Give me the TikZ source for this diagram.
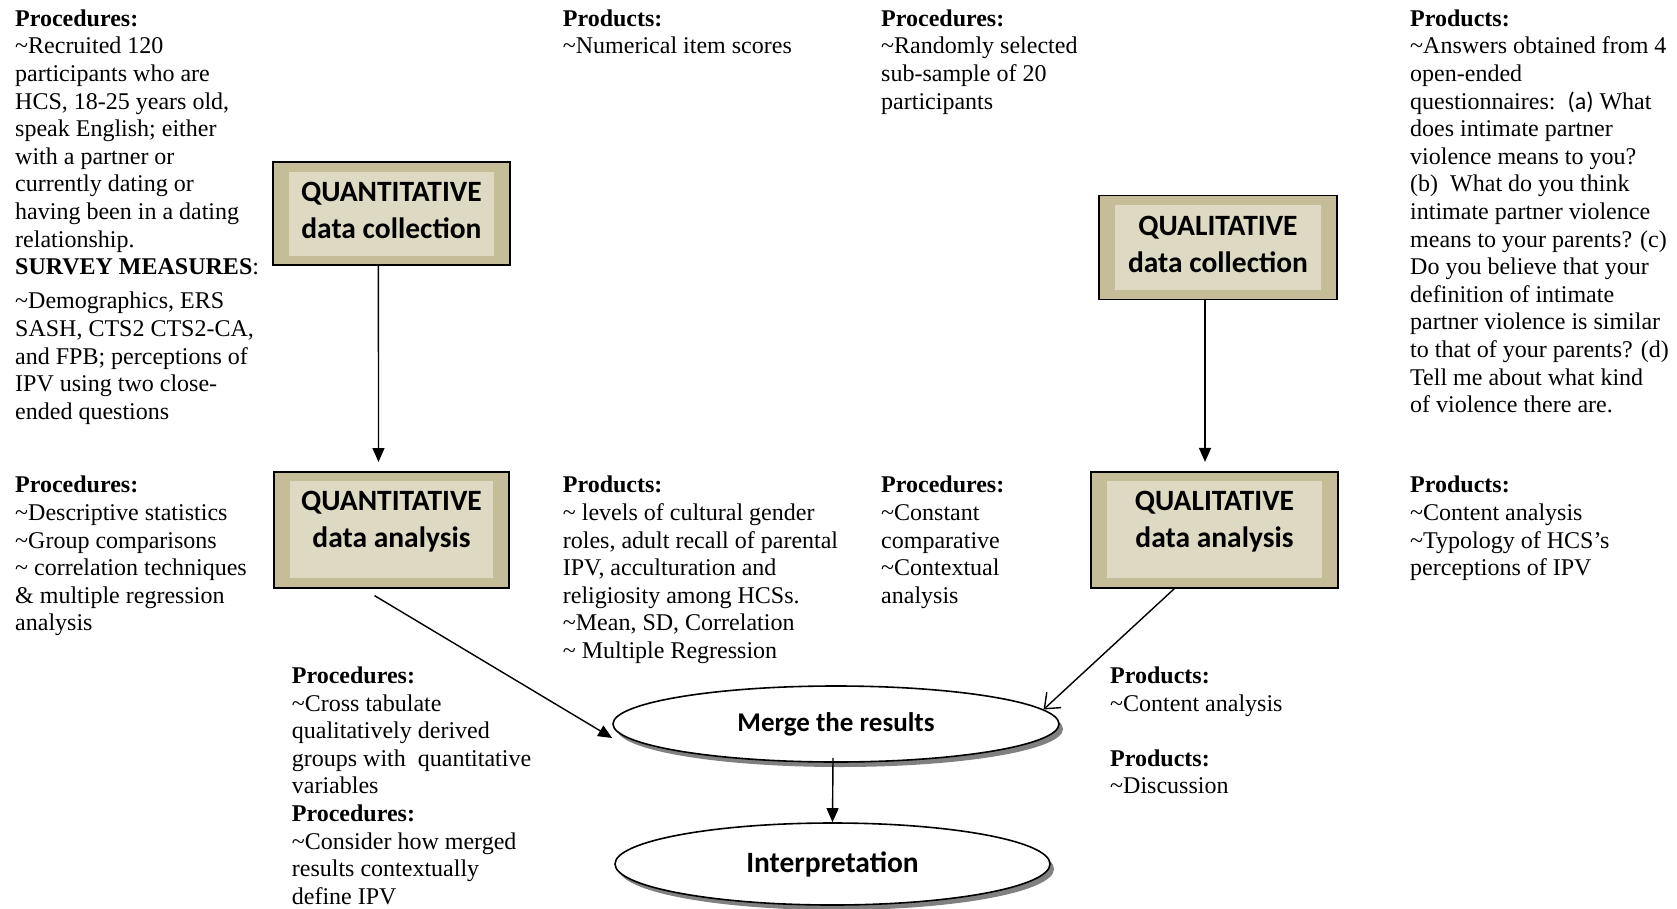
\documentclass[tikz,border=0pt]{standalone}
\usepackage{fontspec}
\setmainfont{Liberation Serif}
\newfontfamily\calfont{Carlito}
\usetikzlibrary{arrows.meta,shapes.geometric,shadows,calc}
\definecolor{tanout}{HTML}{C4BD97}
\definecolor{tanin}{HTML}{DDD9C3}
\begin{document}
\begin{tikzpicture}[x=1pt,y=-1pt,
  txt/.style={anchor=north west, align=left, inner sep=0pt, font=\fontsize{24}{27.6}\selectfont},
  qbox/.style={draw=black, line width=1.6pt, fill=tanout, inner sep=0pt,
    path picture={\fill[tanin] ($(path picture bounding box.south west)+(16pt,9.5pt)$) rectangle ($(path picture bounding box.north east)+(-16pt,-9.5pt)$);}},
  boxtxt/.style={inner sep=0pt, align=center, font=\calfont\bfseries\fontsize{29.5}{37}\selectfont},
  ell/.style={ellipse, draw=black, line width=1.6pt, fill=white, inner sep=0pt,
    font=\calfont\bfseries\fontsize{27}{33}\selectfont,
    drop shadow={shadow xshift=4pt, shadow yshift=-5pt, fill=black!50, opacity=1}},
  arr/.style={line width=1.4pt, -{Triangle[length=14pt,width=12pt]}},
  oarr/.style={line width=1.4pt, -{Straight Barb[length=13pt,width=21pt,line width=1.4pt]}}
]
\useasboundingbox (0,0) rectangle (1677,909);

% boxes
\node[qbox, minimum width=237pt, minimum height=103pt] (qcol) at (391.4,213.7) {};
\node[boxtxt] (qcolt) at ($(qcol)+(0,-3)$) {QUANTITATIVE\\data collection};
\node[qbox, minimum width=235pt, minimum height=116pt] (qana) at (391.5,529.8) {};
\node[boxtxt] (qanat) at ($(qana)+(0,-8.5)$) {QUANTITATIVE\\data analysis};
\node[qbox, minimum width=238pt, minimum height=104pt] (lcol) at (1218,247.6) {};
\node[boxtxt] (lcolt) at ($(lcol)+(0,-3)$) {QUALITATIVE\\data collection};
\node[qbox, minimum width=247pt, minimum height=116pt] (lana) at (1214.5,529.7) {};
\node[boxtxt] (lanat) at ($(lana)+(0,-8.5)$) {QUALITATIVE\\data analysis};

% ellipses
\node[ell, minimum width=446pt, minimum height=76pt] (merge) at (836,724) {Merge the results};
\node[ell, minimum width=435pt, minimum height=82pt, font=\calfont\bfseries\fontsize{29.5}{35}\selectfont] (interp) at (832.5,864) {Interpretation};

% texts, top row
\node[txt] (t1) at (15,6.7) {\strut\textbf{Procedures:}\\\textasciitilde Recruited 120\\participants who are\\HCS, 18-25 years old,\\speak English; either\\with a partner or\\currently dating or\\having been in a dating\\relationship.\\\textbf{SURVEY MEASURES}:\\[6.6pt]\textasciitilde Demographics, ERS\\SASH, CTS2 CTS2-CA,\\and FPB; perceptions of\\IPV using two close-\\ended questions};
\node[txt] (t2) at (562.7,6.7) {\strut\textbf{Products:}\\\textasciitilde Numerical item scores};
\node[txt] (t3) at (881,6.7) {\strut\textbf{Procedures:}\\\textasciitilde Randomly selected\\sub-sample of 20\\participants};
\node[txt] (t4) at (1410,6.7) {\strut\textbf{Products:}\\\textasciitilde Answers obtained from 4\\open-ended\\questionnaires:\ \ {\calfont (a)} What\\does intimate partner\\violence means to you?\\(b)\ \ What do you think\\intimate partner violence\\means to your parents? (c)\\Do you believe that your\\definition of intimate\\partner violence is similar\\to that of your parents? (d)\\Tell me about what kind\\of violence there are.};

% middle row
\node[txt] (m1) at (15,473.4) {\strut\textbf{Procedures:}\\\textasciitilde Descriptive statistics\\\textasciitilde Group comparisons\\\textasciitilde\ correlation techniques\\\&\ multiple regression\\analysis};
\node[txt] (m2) at (562.7,473.4) {\strut\textbf{Products:}\\\textasciitilde\ levels of cultural gender\\roles, adult recall of parental\\IPV, acculturation and\\religiosity among HCSs.\\\textasciitilde Mean, SD, Correlation\\\textasciitilde\ Multiple Regression};
\node[txt] (m3) at (881,473.4) {\strut\textbf{Procedures:}\\\textasciitilde Constant\\comparative\\\textasciitilde Contextual\\analysis};
\node[txt] (m4) at (1410,473.4) {\strut\textbf{Products:}\\\textasciitilde Content analysis\\\textasciitilde Typology of HCS’s\\perceptions of IPV};

% bottom row
\node[txt] (b1) at (291.7,664) {\strut\textbf{Procedures:}\\\textasciitilde Cross tabulate\\qualitatively derived\\groups with\ \ quantitative\\variables\\\textbf{Procedures:}\\\textasciitilde Consider how merged\\results contextually\\define IPV};
\node[txt] (b2) at (1110,664) {\strut\textbf{Products:}\\\textasciitilde Content analysis\\[27.6pt]\textbf{Products:}\\\textasciitilde Discussion};

% connectors
\draw[arr] ($(qcol.south)+(-13,0)$) -- ($(qana.north)+(-13,-9)$);
\draw[arr] ($(lcol.south)+(-13,0)$) -- ($(lana.north)+(-9.5,-9)$);
\draw[arr] ($(qana.south)+(-17,7)$) -- ($(merge.west)+(0,14)$);
\draw[oarr] ($(lana.south)+(-40,0)$) -- (merge.4);
\draw[arr] ($(merge.south)+(-3,-5)$) -- (interp.north);
\end{tikzpicture}
\end{document}
